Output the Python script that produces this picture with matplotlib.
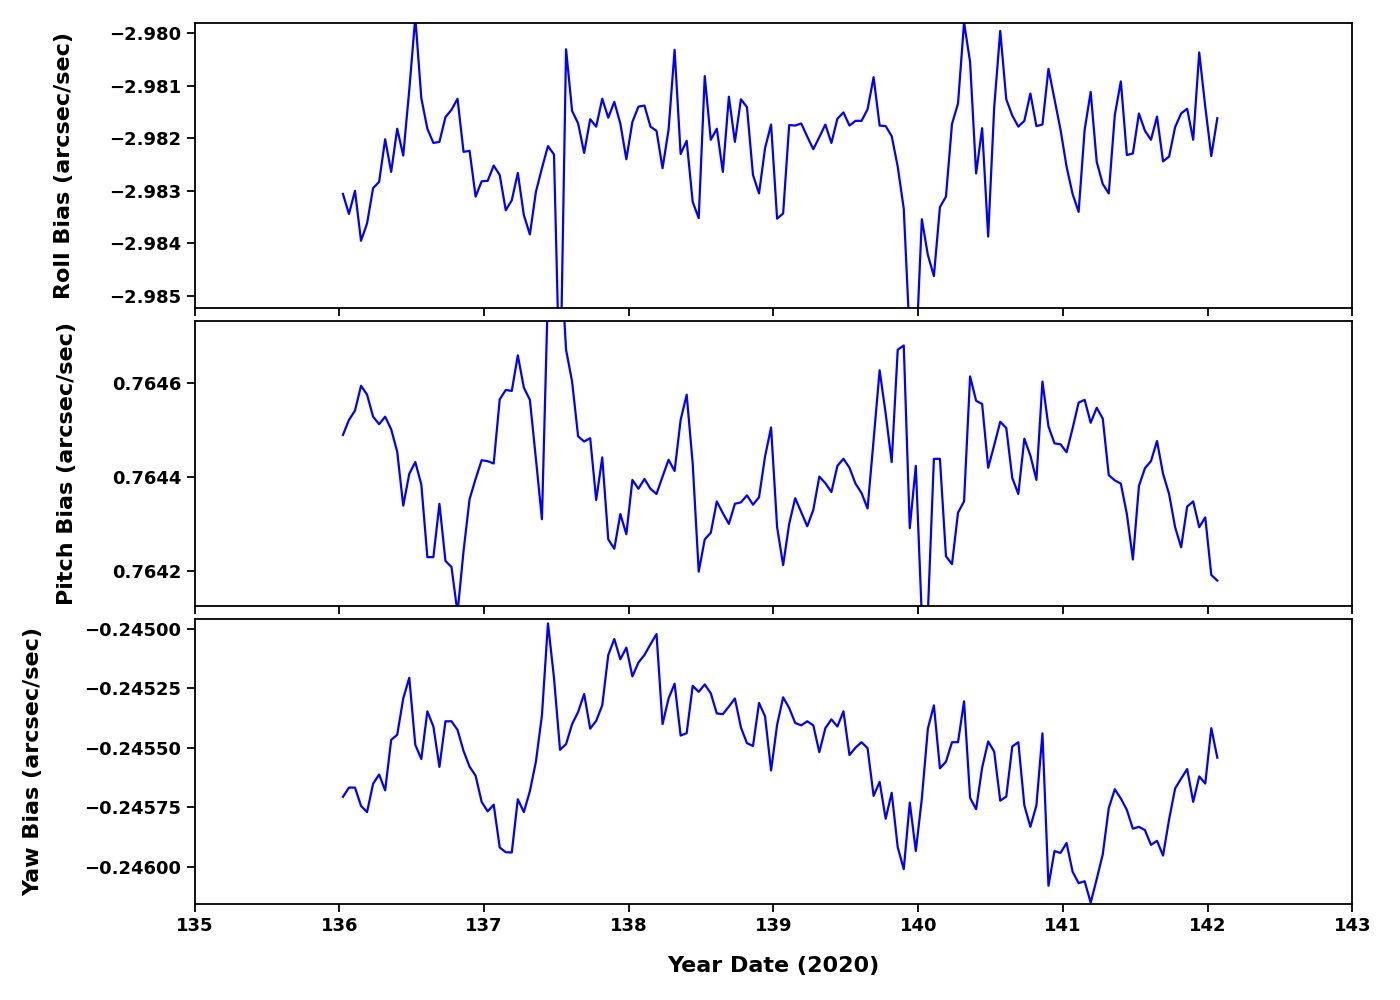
import numpy as np
import matplotlib
matplotlib.use("Agg")
import matplotlib.pyplot as plt

# hourly samples, day of year 2020
t0 = 136.025
n_pts = 146
time = t0 + np.arange(n_pts) / 24.0

roll = [-2.98306, -2.98344, -2.98300, -2.98395, -2.98362, -2.98295, -2.98283, -2.98202, -2.98264, -2.98182,
        -2.98233, -2.98108, -2.97970, -2.98124, -2.98182, -2.98209, -2.98207, -2.98160, -2.98146, -2.98125,
        -2.98226, -2.98224, -2.98311, -2.98282, -2.98281, -2.98252, -2.98270, -2.98337, -2.98318, -2.98266,
        -2.98346, -2.98383, -2.98302, -2.98257, -2.98215, -2.98231, -2.98700, -2.98031, -2.98148, -2.98172,
        -2.98228, -2.98164, -2.98178, -2.98125, -2.98161, -2.98131, -2.98172, -2.98240, -2.98169, -2.98140,
        -2.98138, -2.98178, -2.98186, -2.98257, -2.98184, -2.98032, -2.98230, -2.98205, -2.98321, -2.98352,
        -2.98082, -2.98203, -2.98182, -2.98264, -2.98121, -2.98207, -2.98126, -2.98141, -2.98270, -2.98305,
        -2.98219, -2.98174, -2.98353, -2.98343, -2.98175, -2.98176, -2.98172, -2.98197, -2.98221, -2.98198,
        -2.98174, -2.98209, -2.98163, -2.98151, -2.98176, -2.98167, -2.98167, -2.98145, -2.98084, -2.98176,
        -2.98177, -2.98196, -2.98254, -2.98334, -2.98580, -2.98620, -2.98354, -2.98422, -2.98462, -2.98331,
        -2.98311, -2.98173, -2.98134, -2.97980, -2.98055, -2.98267, -2.98181, -2.98387, -2.98141, -2.97996,
        -2.98126, -2.98157, -2.98178, -2.98167, -2.98115, -2.98177, -2.98174, -2.98068, -2.98126, -2.98184,
        -2.98254, -2.98306, -2.98340, -2.98184, -2.98112, -2.98245, -2.98287, -2.98305, -2.98156, -2.98092,
        -2.98232, -2.98229, -2.98153, -2.98186, -2.98203, -2.98159, -2.98244, -2.98235, -2.98179, -2.98153,
        -2.98144, -2.98203, -2.98037, -2.98140, -2.98234, -2.98162]

pitch = [0.764490, 0.764522, 0.764542, 0.764595, 0.764576, 0.764529, 0.764513, 0.764529, 0.764502, 0.764454,
         0.764339, 0.764407, 0.764432, 0.764384, 0.764229, 0.764229, 0.764343, 0.764221, 0.764208, 0.764110,
         0.764242, 0.764353, 0.764396, 0.764436, 0.764434, 0.764429, 0.764566, 0.764586, 0.764584, 0.764660,
         0.764591, 0.764565, 0.764439, 0.764310, 0.764800, 0.765000, 0.764900, 0.764672, 0.764604, 0.764487,
         0.764476, 0.764483, 0.764351, 0.764442, 0.764267, 0.764247, 0.764321, 0.764278, 0.764394, 0.764375,
         0.764396, 0.764375, 0.764364, 0.764401, 0.764437, 0.764413, 0.764522, 0.764576, 0.764429, 0.764198,
         0.764267, 0.764281, 0.764348, 0.764323, 0.764300, 0.764343, 0.764346, 0.764361, 0.764341, 0.764357,
         0.764444, 0.764506, 0.764293, 0.764212, 0.764300, 0.764355, 0.764325, 0.764295, 0.764330, 0.764401,
         0.764387, 0.764368, 0.764424, 0.764439, 0.764420, 0.764386, 0.764366, 0.764333, 0.764479, 0.764628,
         0.764536, 0.764432, 0.764672, 0.764681, 0.764291, 0.764424, 0.764100, 0.764110, 0.764439, 0.764439,
         0.764231, 0.764214, 0.764324, 0.764348, 0.764615, 0.764563, 0.764556, 0.764420, 0.764468, 0.764518,
         0.764505, 0.764398, 0.764364, 0.764482, 0.764446, 0.764394, 0.764604, 0.764508, 0.764472, 0.764470,
         0.764453, 0.764504, 0.764559, 0.764565, 0.764516, 0.764548, 0.764525, 0.764404, 0.764393, 0.764386,
         0.764321, 0.764224, 0.764381, 0.764419, 0.764434, 0.764477, 0.764407, 0.764364, 0.764293, 0.764250,
         0.764337, 0.764348, 0.764293, 0.764314, 0.764191, 0.764179]

yaw = [-0.245706, -0.245667, -0.245667, -0.245744, -0.245770, -0.245651, -0.245612, -0.245679, -0.245466, -0.245445,
       -0.245292, -0.245205, -0.245487, -0.245547, -0.245346, -0.245410, -0.245580, -0.245388, -0.245388, -0.245424,
       -0.245513, -0.245579, -0.245617, -0.245727, -0.245767, -0.245739, -0.245919, -0.245939, -0.245940, -0.245716,
       -0.245770, -0.245682, -0.245558, -0.245363, -0.244976, -0.245205, -0.245508, -0.245484, -0.245400, -0.245349,
       -0.245273, -0.245419, -0.245386, -0.245321, -0.245109, -0.245042, -0.245127, -0.245078, -0.245199, -0.245141,
       -0.245109, -0.245064, -0.245021, -0.245400, -0.245292, -0.245230, -0.245448, -0.245438, -0.245239, -0.245264,
       -0.245233, -0.245270, -0.245355, -0.245358, -0.245326, -0.245292, -0.245414, -0.245480, -0.245492, -0.245311,
       -0.245367, -0.245595, -0.245403, -0.245287, -0.245332, -0.245395, -0.245405, -0.245388, -0.245405, -0.245518,
       -0.245417, -0.245380, -0.245410, -0.245346, -0.245530, -0.245499, -0.245476, -0.245501, -0.245702, -0.245643,
       -0.245798, -0.245689, -0.245918, -0.246010, -0.245730, -0.245934, -0.245713, -0.245419, -0.245321, -0.245586,
       -0.245558, -0.245476, -0.245476, -0.245304, -0.245710, -0.245758, -0.245583, -0.245473, -0.245516, -0.245722,
       -0.245705, -0.245494, -0.245476, -0.245742, -0.245832, -0.245742, -0.245439, -0.246080, -0.245934, -0.245942,
       -0.245900, -0.246021, -0.246069, -0.246061, -0.246151, -0.246052, -0.245948, -0.245753, -0.245674, -0.245713,
       -0.245761, -0.245840, -0.245832, -0.245846, -0.245908, -0.245891, -0.245953, -0.245801, -0.245671, -0.245629,
       -0.245589, -0.245727, -0.245620, -0.245650, -0.245417, -0.245541]

labels = ["Roll Bias (arcsec/sec)", "Pitch Bias (arcsec/sec)", "Yaw Bias (arcsec/sec)"]
ylims = [(-2.985228, -2.97981), (0.7641247, 0.7647333), (-0.2461568, -0.2449576)]
yticks = [[-2.985, -2.984, -2.983, -2.982, -2.981, -2.980],
          [0.7642, 0.7644, 0.7646],
          [-0.24600, -0.24575, -0.24550, -0.24525, -0.24500]]
yfmt = ["%.3f", "%.4f", "%.5f"]
xticks = [135, 136, 137, 138, 139, 140, 141, 142, 143]

plt.rcParams["font.family"] = "DejaVu Sans"
plt.rcParams["font.weight"] = "bold"
plt.rcParams["axes.labelweight"] = "bold"
plt.rcParams["font.size"] = 13

fig = plt.figure(figsize=(14, 10), dpi=100)
bottoms = [0.692, 0.394, 0.096]
label_x = [-0.1045, -0.1019, -0.1304]
series = [roll, pitch, yaw]
axes = []
for i in range(3):
    ax = fig.add_axes([0.139, bottoms[i], 0.827, 0.285])
    ax.plot(time, series[i], color="blue", linewidth=1.6)
    ax.set_xlim(135, 143)
    ax.set_ylim(*ylims[i])
    ax.set_xticks(xticks)
    ax.set_yticks(yticks[i])
    ax.yaxis.set_major_formatter(matplotlib.ticker.FuncFormatter(
        lambda v, p, f=yfmt[i]: (f % v).replace("-", "\u2212")))
    ax.set_ylabel(labels[i], fontsize=16)
    ax.yaxis.set_label_coords(label_x[i], 0.5)
    ax.tick_params(width=1.3, length=6, labelsize=13)
    for s in ax.spines.values():
        s.set_linewidth(1.3)
    if i < 2:
        ax.set_xticklabels([])
    axes.append(ax)

axes[2].set_xlabel("Year Date (2020)", fontsize=16)
axes[2].xaxis.set_label_coords(0.5, -0.182)

plt.savefig("out.png", dpi=100)
